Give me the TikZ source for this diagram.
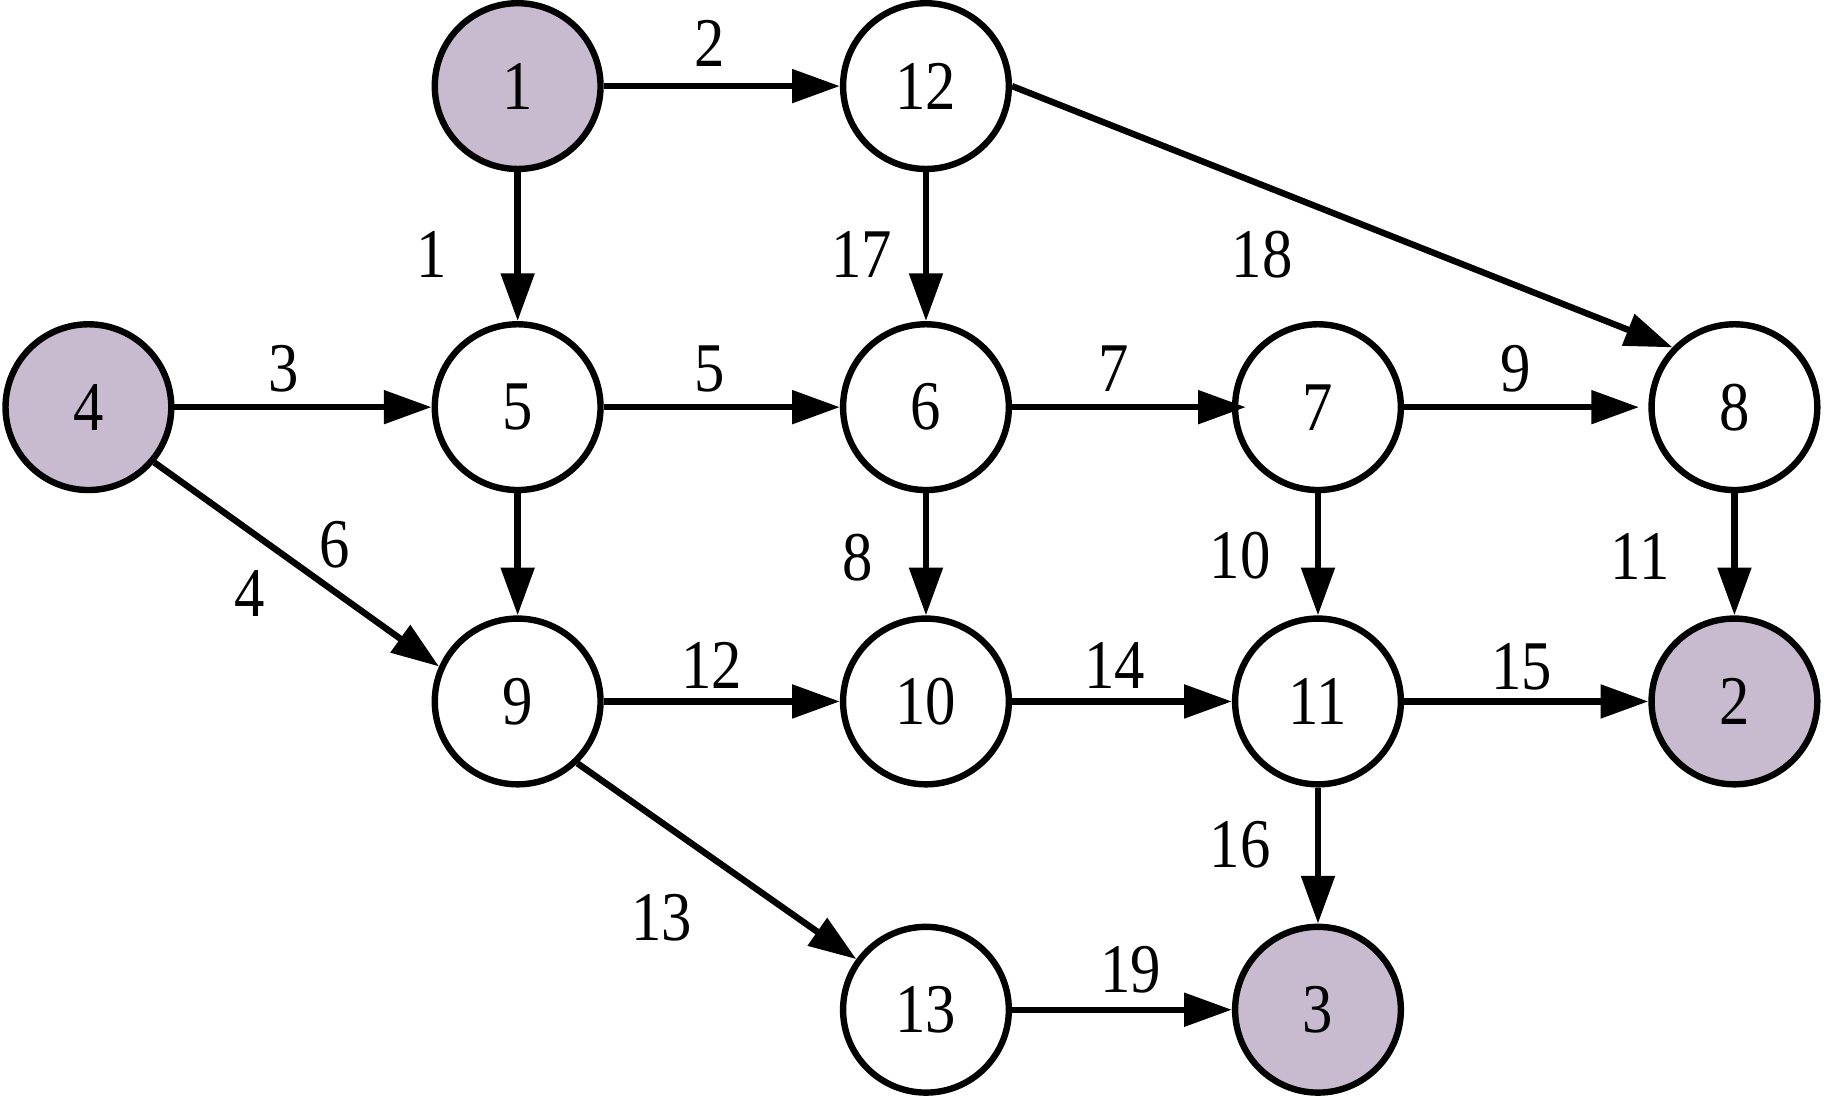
\documentclass[tikz,border=0pt]{standalone}
\usepackage{fontspec}
\setmainfont[FakeStretch=0.87]{Liberation Serif}
\usetikzlibrary{arrows.meta}
\definecolor{srcfill}{RGB}{201,187,207}
\begin{document}
\begin{tikzpicture}[x=1pt,y=-1pt,
  vtx/.style={circle,draw=black,line width=5.5pt,minimum size=142.5pt,inner sep=0pt,fill=white,font=\fontsize{60}{66}\selectfont},
  srcv/.style={vtx,fill=srcfill},
  lbl/.style={inner sep=0pt,font=\fontsize{60}{66}\selectfont},
  edge/.style={line width=5.5pt,-{Triangle[length=41pt,width=28pt]}}]
\useasboundingbox (0,0) rectangle (1568,943);
% vertices
\node[srcv] (n1)  at (445,74)  {1};
\node[vtx]  (n12) at (796,74)  {12};
\node[srcv] (n4)  at (76,350)  {4};
\node[vtx]  (n5)  at (445,350) {5};
\node[vtx]  (n6)  at (796,350) {6};
\node[vtx]  (n7)  at (1133,350) {7};
\node[vtx]  (n8)  at (1491,350) {8};
\node[vtx]  (n9)  at (445,603) {9};
\node[vtx]  (n10) at (796,603) {10};
\node[vtx]  (n11) at (1133,603) {11};
\node[srcv] (n2)  at (1491,603) {2};
\node[vtx]  (n13) at (796,868) {13};
\node[srcv] (n3)  at (1133,868) {3};
% edges
\draw[edge] (n1) -- (n12);
\draw[edge] (n1) -- (n5);
\draw[edge] (n12) -- (n6);
\draw[edge] (n12.east) -- (n8.136);
\draw[edge] (n4) -- (n5);
\draw[edge] (n4.-40) -- (n9.156);
\draw[edge] (n5) -- (n6);
\draw[edge] (n5) -- (n9);
\draw[edge,shorten >=-12pt] (n6) -- (n7);
\draw[edge] (n6) -- (n10);
\draw[edge,shorten >=8pt] (n7.east) -- (n8);
\draw[edge] (n7) -- (n11);
\draw[edge] (n8) -- (n2);
\draw[edge] (n9) -- (n10);
\draw[edge] (n9.-46) -- (n13.144);
\draw[edge] (n10) -- (n11);
\draw[edge] (n11) -- (n2);
\draw[edge] (n11) -- (n3);
\draw[edge] (n13) -- (n3);
% edge labels
\node[lbl] (l1)  at (371,219) {1};
\node[lbl] (l2)  at (610,37)  {2};
\node[lbl] (l3)  at (244,317) {3};
\node[lbl] (l4)  at (215,510) {4};
\node[lbl] (l5)  at (610,317) {5};
\node[lbl] (l6)  at (288,468) {6};
\node[lbl] (l7)  at (957,317) {7};
\node[lbl] (l8)  at (737,479) {8};
\node[lbl] (l9)  at (1303,317) {9};
\node[lbl] (l10) at (1066,478) {10};
\node[lbl] (l11) at (1410,478) {11};
\node[lbl] (l12) at (612,572) {12};
\node[lbl] (l13) at (569,789) {13};
\node[lbl] (l14) at (958,572) {14};
\node[lbl] (l15) at (1308,573) {15};
\node[lbl] (l16) at (1066,726) {16};
\node[lbl] (l17) at (741,219) {17};
\node[lbl] (l18) at (1085,219) {18};
\node[lbl] (l19) at (972,834) {19};
\end{tikzpicture}
\end{document}
